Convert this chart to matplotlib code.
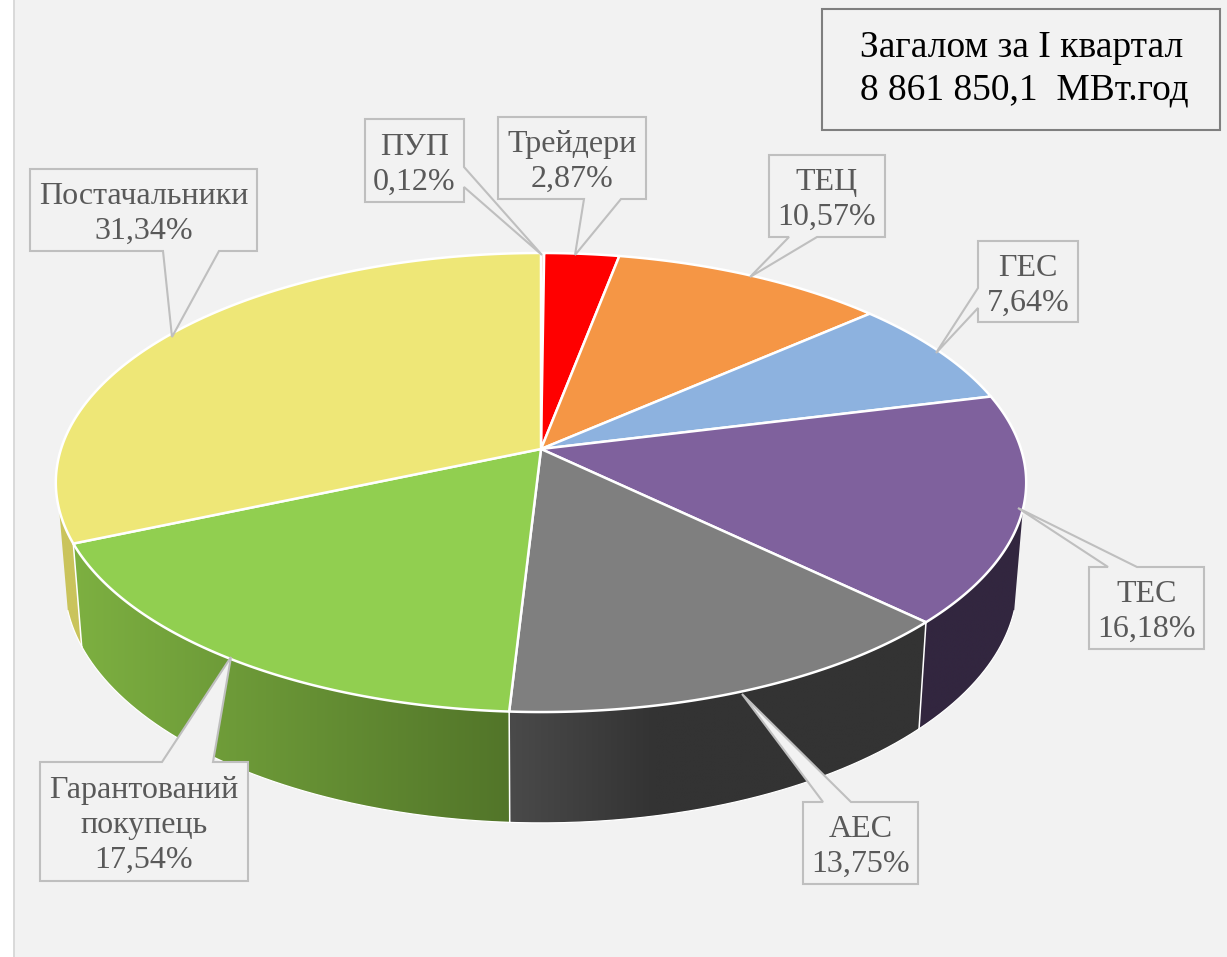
import numpy as np
import matplotlib
matplotlib.use("Agg")
import matplotlib.pyplot as plt
from matplotlib.colors import to_rgb
from matplotlib.patches import Polygon

plt.rcParams['font.family'] = ['Liberation Serif', 'DejaVu Serif']

# data, clockwise from 12 o'clock
names = ["ПУП", "Трейдери", "ТЕЦ", "ГЕС", "ТЕС", "АЕС", "Гарантований\nпокупець", "Постачальники"]
shares = [0.12, 2.87, 10.57, 7.64, 16.18, 13.75, 17.54, 31.34]
top_colors = ["#C0504D", "#FF0000", "#F59645", "#8DB2DF", "#7F619D", "#7F7F7F", "#91CF50", "#EEE777"]
side_left = ["#8C3A38", "#BF0000", "#B86F30", "#6A85A8", "#32263F", "#4A4A4A", "#7DB041", "#CAC45C"]
side_right = ["#8C3A38", "#BF0000", "#B86F30", "#6A85A8", "#32263F", "#333333", "#527529", "#CAC45C"]
side_ramp = [1, 1, 1, 1, 1, 0.35, 1, 1]
total_text = "Загалом за I квартал\n8 861 850,1  МВт.год"

# projection of the tilted disc, in pixels
cx, cy, R = 541, 449, 480
persp, k_y = 0.146, 0.468
drop, low_x, low_y = 98.5, 0.982, 1.047
wall_from, wall_to = np.radians(105), np.radians(255)

# callout boxes: x0, x1, y0, y1 and the tail (start, tip, end)
boxes = [
    (365, 464, 119, 202, [(464, 167), (542, 255), (464, 187)], 'right'),
    (498, 646, 117, 199, [(621, 199), (575, 255), (584, 199)], 'bottom'),
    (769, 885, 155, 237, [(817, 237), (750, 277), (789, 237)], 'bottom'),
    (978, 1078, 241, 322, [(978, 288), (936, 353), (978, 308)], 'left'),
    (1089, 1204, 567, 649, [(1137, 567), (1018, 508), (1108, 567)], 'top'),
    (803, 918, 802, 884, [(851, 802), (742, 694), (823, 802)], 'top'),
    (40, 248, 762, 881, [(213, 762), (231, 657), (162, 762)], 'top'),
    (30, 257, 169, 251, [(219, 251), (172, 337), (163, 251)], 'bottom'),
]


def top_xy(a):
    # a - angle from 12 o'clock, clockwise
    X, Y = np.sin(a), np.cos(a)
    s = 1 / (1 + persp * Y)
    return cx + R * X * s, cy - R * k_y * Y * s


def low_xy(a):
    x, y = top_xy(a)
    return cx + (x - cx) * low_x, cy + (y - cy) * low_y + drop


def callout(x0, x1, y0, y1, tail, side):
    a, b, c = tail
    if side == 'right':
        return [(x0, y0), (x1, y0), a, b, c, (x1, y1), (x0, y1)]
    if side == 'left':
        return [(x0, y0), (x1, y0), (x1, y1), (x0, y1), c, b, a]
    if side == 'bottom':
        return [(x0, y0), (x1, y0), (x1, y1), a, b, c, (x0, y1)]
    return [(x0, y0), c, b, a, (x1, y0), (x1, y1), (x0, y1)]


fig = plt.figure(figsize=(12.27, 9.57), dpi=100, facecolor="white")
ax = fig.add_axes([0, 0, 1, 1])

ax.fill([14, 1227, 1227, 14], [0, 0, 957, 957], color="#F2F2F2", lw=0, zorder=0)
ax.plot([14, 14], [0, 957], color="#D9D9D9", lw=1.4, zorder=1)

edges = np.cumsum([0] + shares) / sum(shares) * 2 * np.pi
# the picture's slices sit a little off the true angles towards the front
edges = edges - 0.007 * (1 - np.cos(edges))

# side walls, gradient across x and clipped to the wall shape
for i in range(len(shares)):
    a0, a1 = max(edges[i], wall_from), min(edges[i + 1], wall_to)
    if a1 <= a0:
        continue
    a = np.linspace(a0, a1, 150)
    tx, ty = top_xy(a)
    lx, ly = low_xy(a)
    pts = np.c_[np.r_[tx, lx[::-1]], np.r_[ty, ly[::-1]]]
    wall = Polygon(pts, closed=True, transform=ax.transData, facecolor="none", edgecolor="none")
    ax.add_patch(wall)
    xmin, xmax = pts[:, 0].min(), pts[:, 0].max()
    t = np.linspace(0, 1, 256)
    if side_ramp[i] < 1:
        t = np.minimum(1, t / side_ramp[i])
    grad = np.array(to_rgb(side_left[i])) + t[:, None] * (np.array(to_rgb(side_right[i])) - np.array(to_rgb(side_left[i])))
    im = ax.imshow(grad[None, :, :], extent=(xmin, xmax, pts[:, 1].max(), pts[:, 1].min()),
                   aspect="auto", interpolation="bilinear", zorder=2)
    im.set_clip_path(wall)
    ax.plot(lx, ly, color="white", lw=0.9, zorder=3)

# seams between the visible walls
for e in edges:
    if wall_from < e < wall_to:
        ax.plot(*zip(top_xy(e), low_xy(e)), color="white", lw=1.1, zorder=3)

# top face
for i in range(len(shares)):
    a = np.linspace(edges[i], edges[i + 1], 150)
    tx, ty = top_xy(a)
    ax.fill(np.r_[cx, tx], np.r_[cy, ty], facecolor=top_colors[i], edgecolor="white",
            lw=1.8, joinstyle="round", zorder=4)

# data labels
for i, (x0, x1, y0, y1, tail, side) in enumerate(boxes):
    poly = callout(x0, x1, y0, y1, tail, side)
    ax.fill(*zip(*poly), facecolor="#F2F2F2", edgecolor="#BFBFBF", lw=1.5, joinstyle="miter", zorder=5)
    txt = names[i] + "\n" + f"{shares[i]:.2f}%".replace(".", ",")
    ax.text((x0 + x1) / 2, (y0 + y1) / 2 + 4, txt, ha="center", va="center", fontsize=23,
            color="#595959", linespacing=1.27, zorder=6)

ax.fill([822, 1220, 1220, 822], [9, 9, 130, 130], facecolor="#F2F2F2", edgecolor="#7F7F7F", lw=1.5, zorder=5)
ax.text(860, 69, total_text, ha="left", va="center", fontsize=27, color="black", linespacing=1.28, zorder=6)

ax.set_xlim(0, 1227)
ax.set_ylim(957, 0)
ax.axis("off")

fig.savefig("out.png", dpi=100)
